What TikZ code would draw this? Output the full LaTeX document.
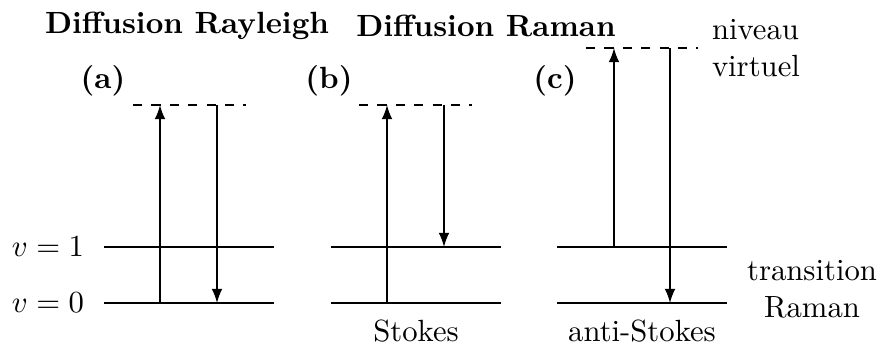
\documentclass[tikz,border=0pt]{standalone}
\usepackage{amsmath}
\usetikzlibrary{arrows, positioning, calc}

\begin{document}
\begin{tikzpicture}[
    x=0.326pt, y=-0.326pt,
    level/.style={line width=0.6pt},
    virtual/.style={dashed, line width=0.6pt},
    transition/.style={line width=0.6pt, -latex},
    title/.style={font=\bfseries},
    every node/.style={inner sep=0pt, outer sep=0pt}
]
    \useasboundingbox (0,0) rectangle (878,351);

    % titres
    \node[title] (rayleigh) at (187,26) {Diffusion Rayleigh};
    \node[title] (raman) at (486,26) {Diffusion Raman};
    \node[title] (lblA) at (103,81) {(a)};
    \node[title] (lblB) at (329,81) {(b)};
    \node[title] (lblC) at (555,81) {(c)};

    % niveaux v=0 et v=1
    \foreach \name/\xa/\xb in {a/104/274, b/331/501, c/557/727} {
        \coordinate (\name0l) at (\xa,303);
        \coordinate (\name0r) at (\xb,303);
        \coordinate (\name1l) at (\xa,247);
        \coordinate (\name1r) at (\xb,247);
        \draw[level] (\name0l) -- (\name0r);
        \draw[level] (\name1l) -- (\name1r);
    }
    \node[anchor=east] (v1) at (84,247) {$v=1$};
    \node[anchor=east] (v0) at (84,303) {$v=0$};

    % niveaux virtuels
    \coordinate (aVl) at (133,105);
    \coordinate (aVr) at (246,105);
    \coordinate (bVl) at (359,105);
    \coordinate (bVr) at (472,105);
    \coordinate (cVl) at (586,48);
    \coordinate (cVr) at (698,48);
    \draw[virtual] (aVl) -- (aVr);
    \draw[virtual] (bVl) -- (bVr);
    \draw[virtual] (cVl) -- (cVr);

    % (a) Rayleigh
    \draw[transition] (160,303) -- (160,105);
    \draw[transition] (217,105) -- (217,303);
    % (b) Stokes
    \draw[transition] (387,303) -- (387,105);
    \draw[transition] (444,105) -- (444,247);
    % (c) anti-Stokes
    \draw[transition] (614,247) -- (614,48);
    \draw[transition] (670,48) -- (670,303);

    \node (stokes) at (416,331) {Stokes};
    \node (antistokes) at (642,331) {anti-Stokes};
    \node[anchor=west, align=left] (virtuel) at (712,48) {niveau\\virtuel};
    \node[align=center] (raman2) at (812,289) {transition\\Raman};
\end{tikzpicture}
\end{document}
